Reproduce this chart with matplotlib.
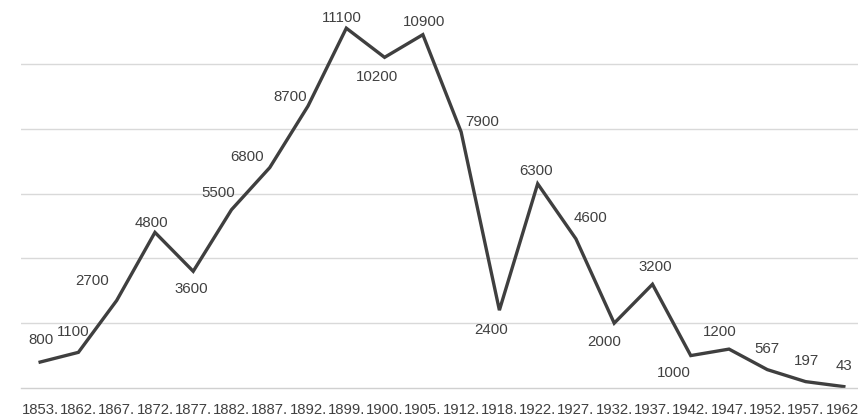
import matplotlib
matplotlib.use("Agg")
import matplotlib.pyplot as plt

years = ["1853", "1862", "1867", "1872", "1877", "1882", "1887", "1892",
         "1899", "1900", "1905", "1912", "1918", "1922", "1927", "1932",
         "1937", "1942", "1947", "1952", "1957", "1962"]
values = [800, 1100, 2700, 4800, 3600, 5500, 6800, 8700, 11100, 10200, 10900,
          7900, 2400, 6300, 4600, 2000, 3200, 1000, 1200, 567, 197, 43]

# where each data label sits relative to its point (pixels)
label_offsets = [(1, 22), (-5, 20), (-25, 19), (-4, 9), (-2, -18), (-13, 17),
                 (-23, 11), (-18, 9), (-4, 10), (-8, -20), (1, 13), (21, 10),
                 (-8, -20), (-2, 13), (15, 21), (-10, -19), (3, 17), (-17, -17),
                 (-9, 17), (0, 21), (1, 21), (0, 21)]

plt.rcParams["font.family"] = ["Liberation Sans", "DejaVu Sans"]

W, H = 858, 418
fig = plt.figure(figsize=(W / 100, H / 100), dpi=100)
ax = fig.add_axes([21 / W, 30 / H, (W - 21) / W, 389 / H])

x = list(range(len(years)))
ax.plot(x, values, color="#3f3f3f", lw=2.4, solid_joinstyle="miter")

for xi, v, (dx, dy) in zip(x, values, label_offsets):
    ax.annotate(str(v), (xi, v), xytext=(dx, dy), textcoords="offset pixels",
                ha="center", va="center", fontsize=10.8, color="#404040")

ax.set_xlim(-0.5, 21.37)
ax.set_ylim(0, 12000)
ax.set_yticks([2000, 4000, 6000, 8000, 10000])
ax.yaxis.grid(True, color="#d9d9d9", lw=1.0)
ax.set_axisbelow(True)
ax.tick_params(axis="y", left=False, labelleft=False)

# category labels drawn by hand so the last one can hug the right edge
ax.set_xticks(x)
ax.tick_params(axis="x", length=0, labelbottom=False)
for xi, yr in zip(x, years):
    last = xi == len(years) - 1
    ax.text(xi + (0.4 if last else 0), -22 / 389, yr if last else yr + ".",
            transform=ax.get_xaxis_transform(), ha="right" if last else "center",
            va="center", fontsize=10.7, color="#404040")

for s in ["top", "right", "left"]:
    ax.spines[s].set_visible(False)
ax.spines["bottom"].set_color("#d0d0d0")
ax.spines["bottom"].set_linewidth(1.0)

fig.savefig("out.png", dpi=100)
